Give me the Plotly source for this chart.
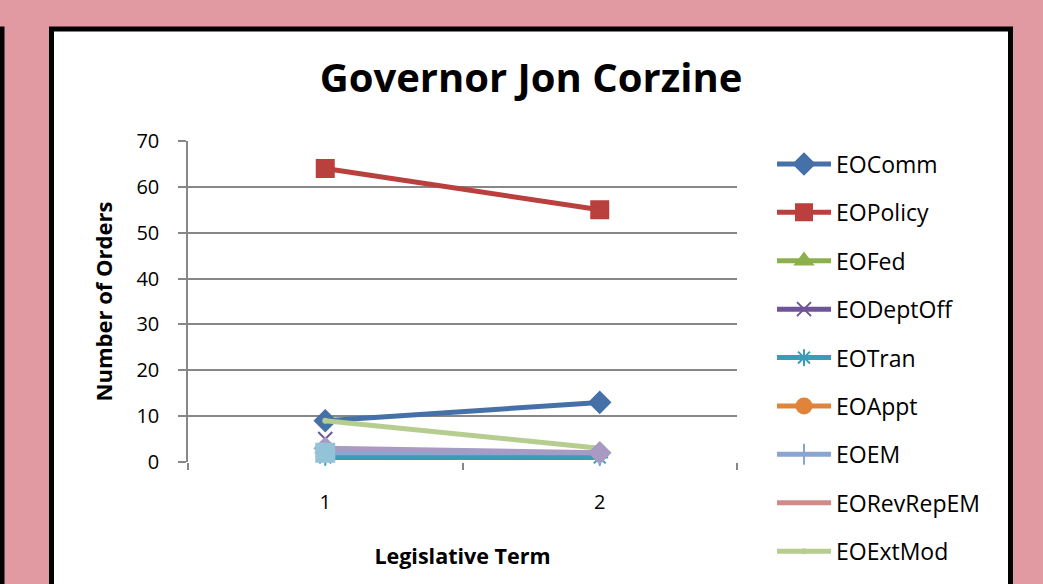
import plotly.graph_objects as go

terms = ["1", "2"]
series_names = ["EOComm", "EOPolicy", "EOFed", "EODeptOff", "EOTran", "EOAppt",
                "EOEM", "EORevRepEM", "EOExtMod", "EOSeries10", "EOSeries11"]
eo_comm = [9, 13]
eo_policy = [64, 55]
eo_fed = [None, None]
eo_deptoff = [5, None]
eo_tran = [1, 1]
eo_appt = [None, None]
eo_em = [2, 2]
eo_revrepem = [None, None]
eo_extmod = [9, 3]
eo_series10 = [3, 2]
eo_series11 = [2, None]
y_ticks = [0, 10, 20, 30, 40, 50, 60, 70]

values = [eo_comm, eo_policy, eo_fed, eo_deptoff, eo_tran, eo_appt,
          eo_em, eo_revrepem, eo_extmod, eo_series10, eo_series11]
colors = ["#4571A8", "#B9403D", "#8DB04E", "#6F5597", "#3A9CB6", "#E0833B",
          "#8AA6D0", "#CF8A8A", "#B5CE8F", "#A99AC3", "#92C3D7"]
symbols = ["diamond", "square", "triangle-up", "x-thin-open", "asterisk-open", "circle",
           "cross-thin-open", "line-ew-open", "circle", "diamond", "square"]
sizes = [16, 17, 15, 14, 14, 15, 15, 6, 4, 16, 18]
show_leg = [True] * 9 + [False, False]

W, H = 1043, 584
L, R, T, B = 188, 737, 141, 462

def px(x):
    return (x - L) / (R - L)

def py(y):
    return (B - y) / (B - T)

fig = go.Figure()
for name, vals, c, s, sz, sl in zip(series_names, values, colors, symbols, sizes, show_leg):
    fig.add_trace(go.Scatter(
        x=terms, y=vals, name=name, mode="lines+markers",
        line=dict(color=c, width=5),
        marker=dict(symbol=s, size=sz, color=c, line=dict(color=c, width=2)),
        showlegend=sl, legendgroup=name, cliponaxis=False,
    ))

font = "Open Sans"
fig.update_layout(
    width=W, height=H,
    margin=dict(l=L, r=W - R, t=T, b=H - B, autoexpand=False),
    paper_bgcolor="#E19AA2",
    plot_bgcolor="white",
    font=dict(family=font, color="black", size=20),
    title=dict(text="<b>Governor Jon Corzine</b>", x=px(531), xanchor="center",
               xref="paper", y=1 - 78 / H, yanchor="middle", font=dict(size=40, family=font)),
    xaxis=dict(type="category", range=[-0.5, 1.5], showgrid=False, showline=False,
               ticks="outside", tickson="boundaries", ticklen=7, tickcolor="#878787", tickwidth=1.5,
               tickfont=dict(size=20), ticklabelstandoff=26, automargin=False,
               title=dict(text="<b>Legislative Term</b>", font=dict(size=21.5), standoff=34),
               zeroline=False),
    yaxis=dict(range=[0, 70], tickvals=y_ticks, showgrid=True, gridcolor="#878787", gridwidth=1.5,
               showline=True, linecolor="#878787", linewidth=1.5, zeroline=False,
               ticks="outside", ticklen=8, tickcolor="#878787", tickwidth=1.5, automargin=False,
               tickfont=dict(size=20), ticklabelstandoff=15,
               title=dict(text="<b>Number of Orders</b>", font=dict(size=22), standoff=18)),
    legend=dict(x=px(772), xanchor="left", y=py(142.5), yanchor="top",
                font=dict(size=23), itemwidth=54, tracegroupgap=15.5, maxheight=700,
                bgcolor="rgba(0,0,0,0)", traceorder="grouped"),
    shapes=[
        dict(type="rect", xref="paper", yref="paper", x0=px(51.5), x1=px(1010.5),
             y0=py(29), y1=py(640), line=dict(color="black", width=5),
             fillcolor="white", layer="below"),
        dict(type="rect", xref="paper", yref="paper", x0=px(-100), x1=px(2),
             y0=py(29), y1=py(640), line=dict(color="black", width=5),
             fillcolor="white", layer="below"),
    ],
)

fig.write_html("out.html", config={"displayModeBar": False},
               post_script="document.body.style.margin='0';document.body.style.overflow='hidden';")
